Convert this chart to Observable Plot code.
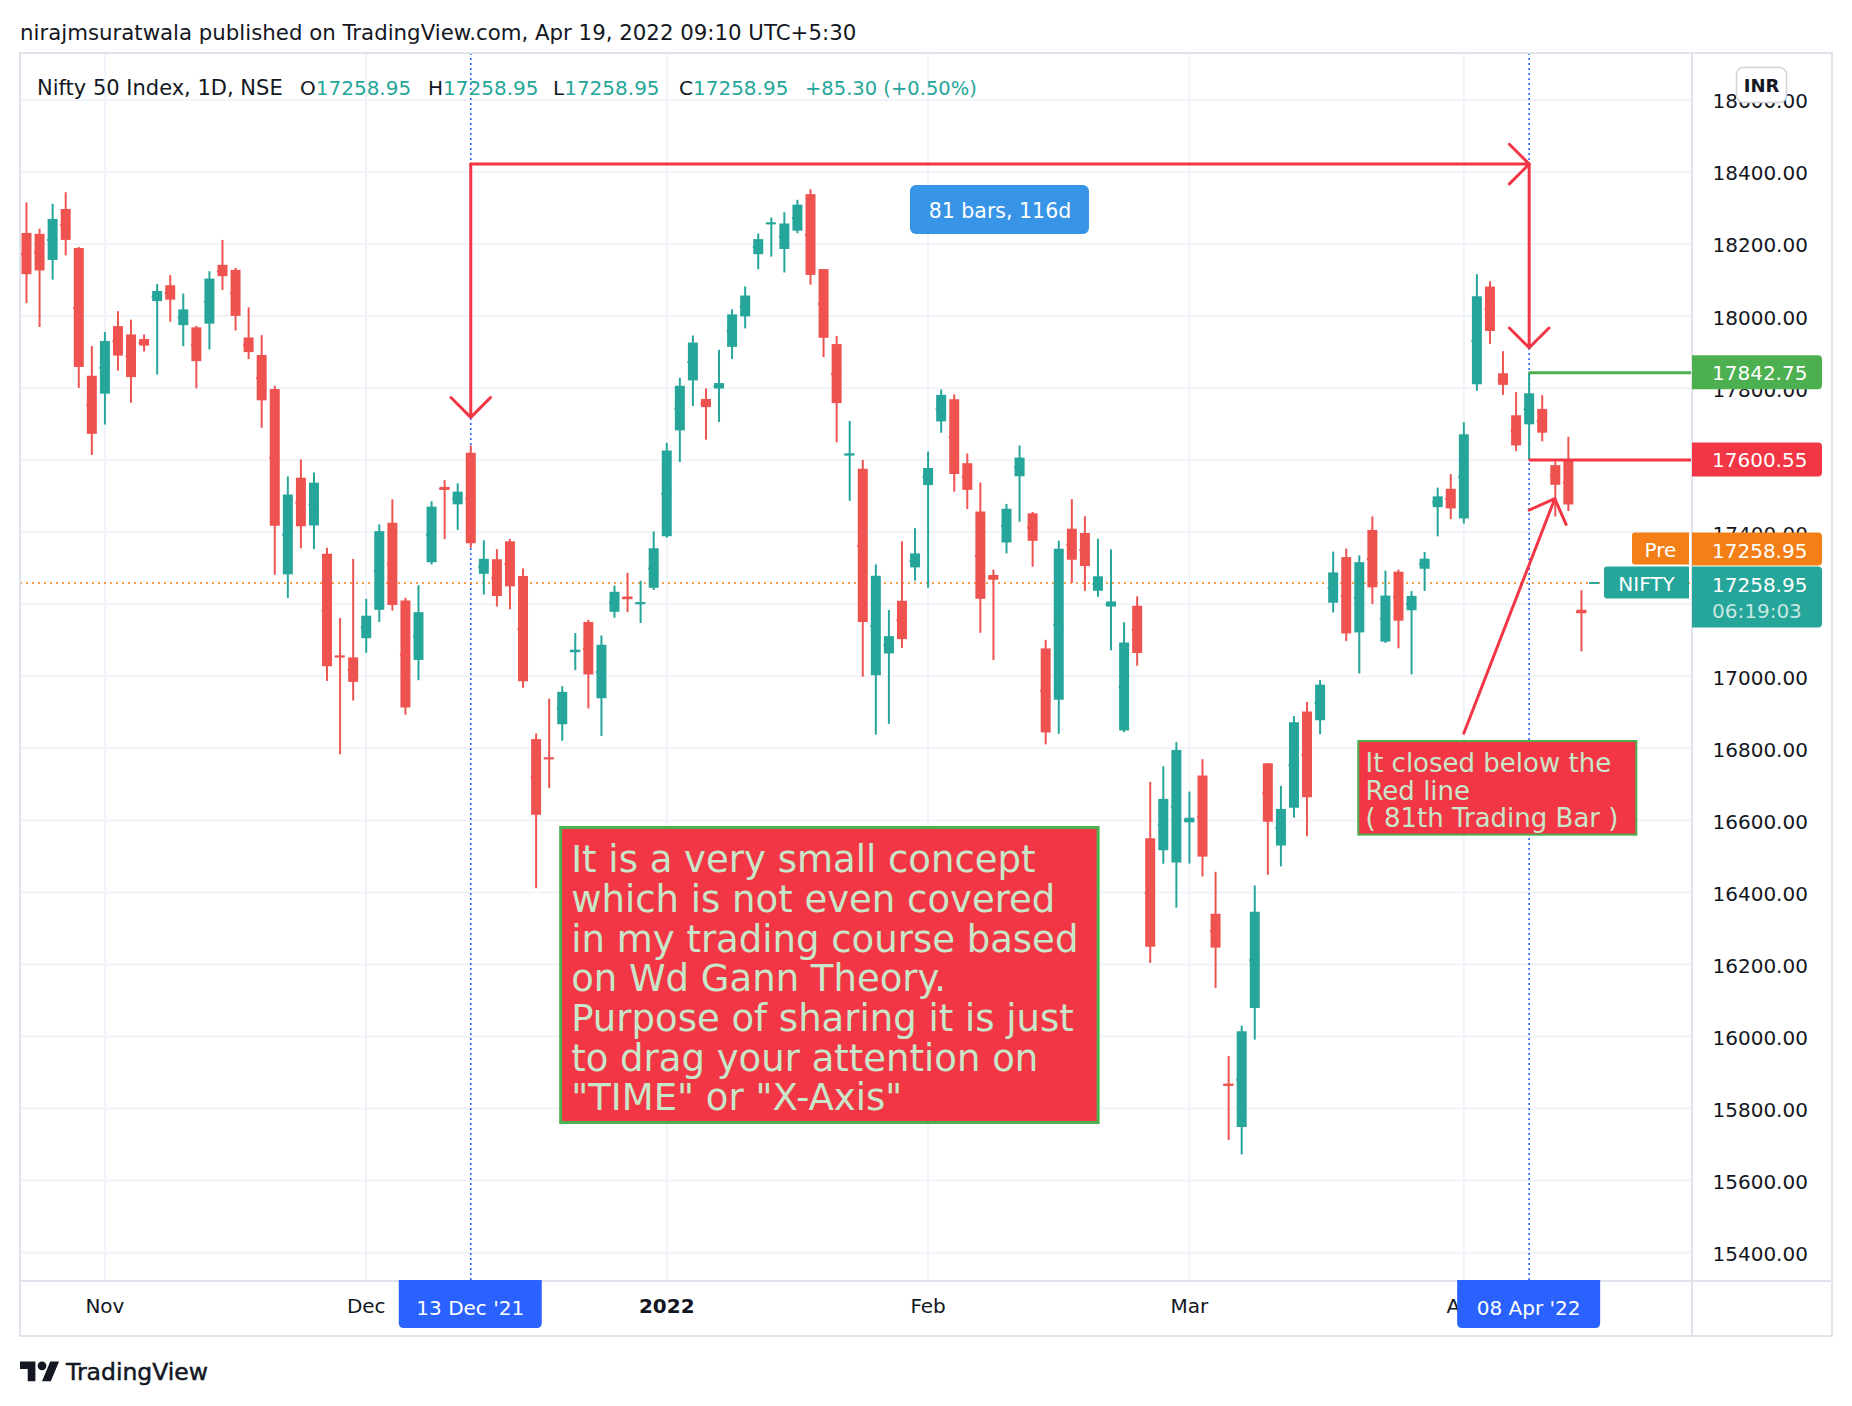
<!DOCTYPE html>
<html><head><meta charset="utf-8">
<script src="https://cdn.jsdelivr.net/npm/d3@7"></script>
<script src="https://cdn.jsdelivr.net/npm/@observablehq/plot@0.6"></script>
<style>
html,body{margin:0;padding:0;background:#fff;overflow:hidden;}
body{width:1852px;height:1406px;position:relative;font-family:"DejaVu Sans",sans-serif;}
#chart{position:absolute;left:0;top:0;}
</style></head><body>
<div id="chart"></div>
<script>
// ---------------- data (Nifty 50, daily) ----------------
const dates = ["2021-10-22","2021-10-25","2021-10-26","2021-10-27","2021-10-28","2021-10-29",
"2021-11-01","2021-11-02","2021-11-03","2021-11-04","2021-11-08","2021-11-09","2021-11-10","2021-11-11","2021-11-12",
"2021-11-15","2021-11-16","2021-11-17","2021-11-18","2021-11-22","2021-11-23","2021-11-24","2021-11-25","2021-11-26",
"2021-11-29","2021-11-30","2021-12-01","2021-12-02","2021-12-03","2021-12-06","2021-12-07","2021-12-08","2021-12-09",
"2021-12-10","2021-12-13","2021-12-14","2021-12-15","2021-12-16","2021-12-17","2021-12-20","2021-12-21","2021-12-22",
"2021-12-23","2021-12-24","2021-12-27","2021-12-28","2021-12-29","2021-12-30","2021-12-31","2022-01-03","2022-01-04",
"2022-01-05","2022-01-06","2022-01-07","2022-01-10","2022-01-11","2022-01-12","2022-01-13","2022-01-14","2022-01-17",
"2022-01-18","2022-01-19","2022-01-20","2022-01-21","2022-01-24","2022-01-25","2022-01-27","2022-01-28","2022-01-31",
"2022-02-01","2022-02-02","2022-02-03","2022-02-04","2022-02-07","2022-02-08","2022-02-09","2022-02-10","2022-02-11",
"2022-02-14","2022-02-15","2022-02-16","2022-02-17","2022-02-18","2022-02-21","2022-02-22","2022-02-23","2022-02-24",
"2022-02-25","2022-02-28","2022-03-02","2022-03-03","2022-03-04","2022-03-07","2022-03-08","2022-03-09","2022-03-10",
"2022-03-11","2022-03-14","2022-03-15","2022-03-16","2022-03-17","2022-03-21","2022-03-22","2022-03-23","2022-03-24",
"2022-03-25","2022-03-28","2022-03-29","2022-03-30","2022-03-31","2022-04-01","2022-04-04","2022-04-05","2022-04-06",
"2022-04-07","2022-04-08","2022-04-11","2022-04-12","2022-04-13","2022-04-18","2022-04-19"];

const open = [18229.5,18227,18154.5,18295.85,18187.65,17833,
17783.15,17970.9,17947.65,17935.05,18040.2,18084.35,17973.45,17967.45,17977.6,
18140.95,18127.05,17939.35,17890.55,17796.25,17281.75,17550.05,17417.3,17338.75,
17055.8,17051.15,17104.4,17183.2,17424.9,17209.05,17044.1,17315.25,17524.4,
17476.05,17619.1,17283.2,17323.65,17373.35,17276.8,16824.25,16773.15,16865.55,
17066.8,17149.5,16937.75,17177.6,17220.1,17201.45,17244.5,17387.15,17681.4,
17820.1,17768.5,17797.6,17913.3,17997.75,18170.4,18257,18185,18235.65,
18337.1,18129.2,17921,17613.7,17575.15,17001.55,17062,17208.3,17301.05,
17529.45,17706.2,17767.75,17590.2,17456.3,17279.85,17370.1,17553.85,17451.2,
17076.15,16933.25,17408.45,17396.55,17236.05,17192.25,16847.95,17194.5,16548.9,
16515.65,16481.6,16593.1,16723.2,16339.45,15867.95,15747.75,16078,16757.1,
16528.8,16633.7,16900.65,16876.65,17202.9,17329.5,17120.4,17405.05,17094.95,
17289,17181.85,17297.2,17468.15,17519.2,17436.9,17809.1,18080.6,17840,
17723.3,17698.15,17740.9,17584.85,17599.9,17183.45,17258.95];

const high = [18314.25,18241.4,18310.45,18342.55,18190.7,17915.85,
17954.45,18012.25,17988.75,17947.55,18087.8,18112.6,18061.25,17971.35,18123,
18210.15,18132.65,18022.65,17945.6,17805.25,17553.7,17600.6,17564.35,17355.4,
17160.7,17324.65,17213.6,17420.35,17489.8,17216.75,17251.65,17484.6,17543.25,
17534.35,17639.5,17376.2,17351.7,17379.65,17298.15,16840.1,16936.4,16971,
17118.65,17155.6,17112.05,17250.25,17285.95,17264.05,17400.8,17646.65,17827.6,
17944.7,17797.95,17905,18017.45,18081.25,18227.95,18272.25,18286.95,18321.55,
18350.95,18129.2,17943.7,17707.6,17599.4,17309.15,17182.5,17373.5,17410,
17622.4,17794.6,17781.15,17617.15,17536.75,17294.9,17477.15,17639.45,17454.75,
17099.9,17375,17490.6,17442.9,17380.55,17351.05,17148.8,17220.7,16705.25,
16748.8,16815.9,16678.5,16768.4,16456,15944.6,16028.75,16418.05,16757.3,
16694.4,16887.95,16927.75,16987.9,17344.6,17353.35,17334.4,17442.4,17291.75,
17294.9,17235.1,17343.65,17522.5,17559.8,17703.7,18114.65,18095.45,17901,
17787.5,17842.75,17779.05,17595.3,17663.65,17237.75,17258.95];

const low = [18034.35,17968.5,18099.7,18167.3,17799.45,17613.1,
17697.55,17847.6,17757.95,17900.15,17836.1,17983.05,17915,17798.2,17905.9,
18071.3,17958.8,17879.25,17688.5,17280.45,17216.1,17354.05,17351.7,16985.7,
16782.4,16931.4,17064.25,17149.3,17180.8,16891.7,16987.75,17308.95,17379.6,
17405.25,17355.6,17225.8,17192.2,17184.65,16966.45,16410.2,16688.25,16819.5,
17015.55,16909.6,16833.2,17161.15,17176.65,17146.35,17238.5,17383.3,17593.55,
17748.85,17655.55,17704.55,17879.15,17964.4,18128.8,18163.8,18119.65,18228.75,
18085.9,17884.9,17648.45,17485.85,16997.85,16836.8,16866.75,17077.1,17264.15,
17244.55,17674.8,17511.15,17462.75,17119.4,17043.65,17339.85,17427.6,17303,
16809.65,16839.25,17257.7,17235.85,17219.2,17070.7,16843.8,17027.85,16203.25,
16478.3,16356.25,16478.65,16442.95,16133.8,15711.45,15671.45,15990,16447.9,
16470.9,16606.5,16555,16837.85,17175.75,17096.4,17006.3,17199.6,17091.15,
17076.55,17003.9,17235.7,17387.2,17435.2,17422.7,17791.4,17921.55,17779.85,
17623.7,17600.55,17650.95,17442.35,17457.4,17067.85,17258.95];

const close = [18114.9,18125.4,18268.4,18210.15,17857.25,17671.65,
17929.65,17888.95,17829.2,17916.8,18068.55,18044.25,18017.2,17873.6,18102.75,
18109.45,17999.2,17898.65,17764.8,17416.55,17503.35,17415.05,17536.25,17026.45,
17053.95,16983.2,17166.9,17401.65,17196.7,16912.25,17176.7,17469.75,17516.85,
17511.3,17368.25,17324.9,17221.4,17248.4,16985.2,16614.2,16770.85,16955.45,
17072.6,17003.75,17086.25,17233.25,17213.6,17203.95,17354.05,17625.7,17805.25,
17925.25,17745.9,17812.7,18003.3,18055.75,18212.35,18257.8,18255.75,18308.1,
18113.05,17938.4,17757,17617.15,17149.1,17277.95,17110.15,17101.95,17339.85,
17576.85,17780,17560.2,17516.3,17213.6,17266.75,17463.8,17605.85,17374.75,
16842.8,17352.45,17322.2,17304.6,17276.3,17206.65,17092.2,17063.25,16247.95,
16658.4,16793.9,16605.95,16498.05,16245.35,15863.15,16013.45,16345.35,16594.9,
16630.45,16871.3,16663,16975.35,17287.05,17117.6,17315.5,17245.65,17222.75,
17153,17222,17325.3,17498.25,17464.75,17670.45,18053.4,17957.4,17807.65,
17639.55,17784.35,17674.95,17530.3,17475.65,17173.65,17258.95];

const priceTicks = [15400,15600,15800,16000,16200,16400,16600,16800,17000,17200,17400,17600,17800,18000,18200,18400,18600];
const monthTickIdx = [6, 26, 49, 69, 89, 110];
const monthTickLabels = ["Nov", "Dec", "2022", "Feb", "Mar", "Apr"];
const rangeIdx = [34, 115];
const rangeLabels = ["13 Dec '21", "08 Apr '22"];
const rangeText = "81 bars, 116d";
const lastPrice = 17258.95;
const lastChange = "+85.30 (+0.50%)";
const levelPrices = [17842.75, 17600.55];

// annotation anchors in data units (bar index, price)
const arrowSegs = [
  {x1: 34, y1: 18422, x2: 115, y2: 18422},
  {x1: 34, y1: 18422, x2: 34, y2: 17719},
  {x1: 115, y1: 18422, x2: 115, y2: 17912},
  {x1: 110, y1: 16842, x2: 116.96, y2: 17493}
];
const rangeBox = [{x1: 67.65, x2: 81.35, y1: 18362.7, y2: 18226.7, x: 74.5, y: 18294.7}];
const bigNote = [{x1: 40.92, x2: 82.05, y1: 16578.9, y2: 15760.0,
  text: "It is a very small concept\nwhich is not even covered\nin my trading course based\non Wd Gann Theory.\nPurpose of sharing it is just\nto drag your attention on\n\"TIME\" or \"X-Axis\""}];
const smallNote = [{x1: 101.96, x2: 123.24, y1: 16819.1, y2: 16559.0,
  text: "It closed below the\nRed line\n( 81th Trading Bar )"}];

// ---------------- chart ----------------
const GREEN = "#26a69a", RED = "#ef5350", TVRED = "#f23645", TVGREEN = "#4caf50";
const GRID = "#f0f3fa", TEXT = "#131722", NOTE_TEXT = "#c8e6c9";
const bars = dates.map((d, i) => ({i, date: d, open: open[i], high: high[i], low: low[i], close: close[i]}));
const up = bars.filter(d => d.close >= d.open);
const down = bars.filter(d => d.close < d.open);
const xMin = -0.459, xMax = 127.5;
const halfBody = 0.383;

function candleMarks(data, color) {
  return [
    Plot.ruleX(data, {x: "i", y1: "low", y2: "high", stroke: color, strokeWidth: 2}),
    Plot.ruleX(data, {x: "i", y1: "open", y2: "close", stroke: color, strokeWidth: 10}),
    Plot.ruleY(data, {y: d => (d.open + d.close) / 2, x1: d => d.i - halfBody, x2: d => d.i + halfBody, stroke: color, strokeWidth: 2})
  ];
}

const monthTicks = monthTickIdx.map((i, k) => ({i, label: monthTickLabels[k]}));

const chart = Plot.plot({
  width: 1852, height: 1406,
  marginLeft: 20, marginRight: 160, marginTop: 53, marginBottom: 126,
  x: {type: "linear", domain: [xMin, xMax], axis: null},
  y: {domain: [15322.7, 18729], axis: null},
  style: {fontFamily: "DejaVu Sans", fontSize: "20px", background: "#fff", color: TEXT, overflow: "visible"},
  marks: [
    Plot.ruleY(priceTicks, {stroke: GRID, strokeWidth: 2}),
    Plot.ruleX(monthTickIdx, {stroke: GRID, strokeWidth: 2}),
    Plot.ruleX(rangeIdx, {stroke: "#2962ff", strokeWidth: 1.6, strokeDasharray: "2,3"}),
    Plot.ruleY([lastPrice], {stroke: "#f57f17", strokeWidth: 1.6, strokeDasharray: "2,4"}),
    ...candleMarks(up, GREEN),
    ...candleMarks(down, RED),
    Plot.ruleY([levelPrices[0]], {x1: rangeIdx[1], x2: xMax, stroke: TVGREEN, strokeWidth: 3}),
    Plot.ruleY([levelPrices[1]], {x1: rangeIdx[1], x2: xMax, stroke: TVRED, strokeWidth: 3}),
    Plot.arrow(arrowSegs, {x1: "x1", y1: "y1", x2: "x2", y2: "y2", stroke: TVRED, strokeWidth: 3, headAngle: 90, headLength: 14}),
    Plot.rect(rangeBox, {x1: "x1", x2: "x2", y1: "y1", y2: "y2", fill: "#3794e6", rx: 6}),
    Plot.text(rangeBox, {x: "x", y: "y", text: () => rangeText, fill: "white", fontSize: 20.5, dy: 1}),
    Plot.rect(bigNote, {x1: "x1", x2: "x2", y1: "y1", y2: "y2", fill: TVRED, stroke: TVGREEN, strokeWidth: 3}),
    Plot.text(bigNote, {x: "x1", y: "y1", text: "text", fill: NOTE_TEXT, fontSize: 37, lineHeight: 1.073,
      textAnchor: "start", lineAnchor: "top", dx: 10, dy: 16}),
    Plot.rect(smallNote, {x1: "x1", x2: "x2", y1: "y1", y2: "y2", fill: TVRED, stroke: TVGREEN, strokeWidth: 2}),
    Plot.text(smallNote, {x: "x1", y: "y1", text: "text", fill: NOTE_TEXT, fontSize: 26, lineHeight: 1.058,
      textAnchor: "start", lineAnchor: "top", dx: 6.7, dy: 11.2}),
    // price axis
    Plot.text(priceTicks, {y: d => d, text: d => d.toFixed(2), frameAnchor: "right", dx: 20, dy: 2,
      textAnchor: "start", fill: TEXT, fontSize: 20}),
    // time axis
    Plot.text(monthTicks.filter(d => d.label !== "2022"), {x: "i", text: "label", frameAnchor: "bottom", dy: 32, fill: TEXT, fontSize: 20}),
    Plot.text(monthTicks.filter(d => d.label === "2022"), {x: "i", text: "label", frameAnchor: "bottom", dy: 32, fill: TEXT, fontSize: 20, fontWeight: "bold"})
  ]
});
document.getElementById("chart").appendChild(chart);

// ---------------- overlays (TradingView chrome) ----------------
const xs = chart.scale("x"), ys = chart.scale("y");
const svg = d3.select(chart);
const g = svg.append("g").attr("font-family", "DejaVu Sans").attr("text-anchor", "start");

const L = 20, R = 1832, T = 53, PB = 1280, B = 1336, AX = 1692;
// frame
g.append("rect").attr("x", L).attr("y", T).attr("width", R - L).attr("height", B - T)
  .attr("fill", "none").attr("stroke", "#e0e3eb").attr("stroke-width", 2);
g.append("line").attr("x1", AX).attr("x2", AX).attr("y1", T).attr("y2", B).attr("stroke", "#e0e3eb").attr("stroke-width", 2);
g.append("line").attr("x1", L).attr("x2", R).attr("y1", PB + 1).attr("y2", PB + 1).attr("stroke", "#e0e3eb").attr("stroke-width", 2);

function roundedPath(x, y, w, h, r, corners) { // corners: [tl,tr,br,bl]
  const [tl, tr, br, bl] = corners.map(c => c ? r : 0);
  return `M${x + tl},${y}H${x + w - tr}` + (tr ? `Q${x + w},${y} ${x + w},${y + tr}` : "") +
    `V${y + h - br}` + (br ? `Q${x + w},${y + h} ${x + w - br},${y + h}` : "") +
    `H${x + bl}` + (bl ? `Q${x},${y + h} ${x},${y + h - bl}` : "") +
    `V${y + tl}` + (tl ? `Q${x},${y} ${x + tl},${y}` : "") + "Z";
}
function label(x, y, w, h, fill, corners, r = 4) {
  g.append("path").attr("d", roundedPath(x, y, w, h, r, corners)).attr("fill", fill);
}
function txt(x, y, s, {size = 20, fill = TEXT, anchor = "start", weight = "normal", opacity = 1} = {}) {
  return g.append("text").attr("x", x).attr("y", y).attr("font-size", size).attr("fill", fill)
    .attr("text-anchor", anchor).attr("font-weight", weight).attr("fill-opacity", opacity).text(s);
}

// date labels on time axis
rangeIdx.forEach((idx, k) => {
  const cx = xs.apply(idx);
  label(cx - 71.5, PB, 143, 48, "#2962ff", [0, 0, 1, 1], 5);
  txt(cx, 1315, rangeLabels[k], {fill: "#fff", anchor: "middle"});
});

// level labels on price axis
[[levelPrices[0], TVGREEN], [levelPrices[1], TVRED]].forEach(([p, c]) => {
  const y = ys.apply(p);
  label(AX, y - 17, 130, 34, c, [0, 1, 1, 0], 4);
  txt(AX + 20, y + 8, p.toFixed(2), {fill: "#fff"});
});
// last price labels
{
  const y = ys.apply(lastPrice);
  label(AX, y - 16 - 34, 130, 33, "#f57f17", [0, 1, 1, 0], 4);
  txt(AX + 20, y - 16 - 34 + 25, lastPrice.toFixed(2), {fill: "#fff"});
  label(AX, y - 16, 130, 61, GREEN, [0, 1, 1, 0], 4);
  txt(AX + 20, y + 9, lastPrice.toFixed(2), {fill: "#fff"});
  txt(AX + 20, y + 35.5, "06:19:03", {fill: "#fff", opacity: 0.75});
  label(1632, y - 16 - 34, 57, 32, "#f57f17", [1, 0, 0, 1], 3);
  txt(1660.5, y - 16 - 34 + 24, "Pre", {fill: "#fff", anchor: "middle"});
  label(1604, y - 16, 85, 32, GREEN, [1, 0, 0, 1], 3);
  txt(1646.5, y - 16 + 24, "NIFTY", {fill: "#fff", anchor: "middle"});
}

// currency button
g.append("rect").attr("x", 1736.5).attr("y", 67.5).attr("width", 50).attr("height", 35).attr("rx", 7)
  .attr("fill", "#fff").attr("stroke", "#d1d4dc").attr("stroke-width", 1.5);
txt(1761.5, 92, "INR", {size: 18, weight: "bold", anchor: "middle"});

// header texts
txt(20, 40, "nirajmsuratwala published on TradingView.com, Apr 19, 2022 09:10 UTC+5:30", {size: 21.3});
txt(37, 95, "Nifty 50 Index, 1D, NSE", {size: 21});
const ohlcX = [300, 428, 553, 679];
["O", "H", "L", "C"].forEach((k, j) => {
  const t = g.append("text").attr("x", ohlcX[j]).attr("y", 95).attr("font-size", 20).attr("text-anchor", "start");
  t.append("tspan").attr("fill", TEXT).text(k);
  t.append("tspan").attr("fill", GREEN).text(lastPrice.toFixed(2));
});
txt(805, 95, lastChange, {size: 19.5, fill: GREEN});

// footer logo
const logo = g.append("g").attr("transform", "translate(20,1357) scale(1.1)").attr("fill", TEXT);
logo.append("path").attr("d", "M14 22H7V11H0V4h14v18z");
logo.append("circle").attr("cx", 20).attr("cy", 8).attr("r", 4);
logo.append("path").attr("d", "M28 22h-8l7.5-18h8L28 22z");
txt(66, 1380, "TradingView", {size: 23.5, fill: TEXT}).attr("stroke", TEXT).attr("stroke-width", 0.5);
</script>
</body></html>
